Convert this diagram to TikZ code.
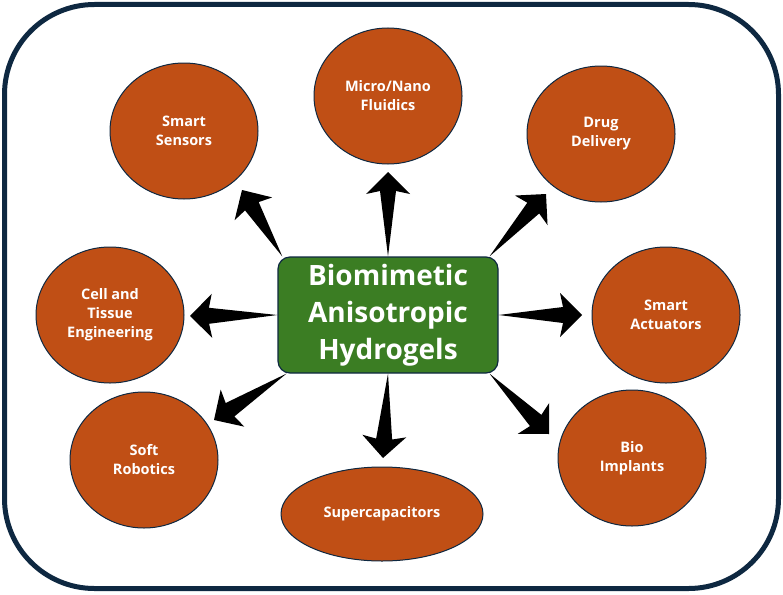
\documentclass[tikz,border=0pt]{standalone}
\usepackage{fontspec}
\setmainfont{Open Sans}
\usetikzlibrary{calc, shapes.geometric}

\definecolor{framenavy}{HTML}{0E2841}
\definecolor{hubgreen}{HTML}{3B7D23}
\definecolor{appbrown}{HTML}{C04F15}

% tapered block arrow: #1 start, #2 tip
\newcommand{\fatarrow}[2]{%
  \coordinate (aj) at ($(#2)!19pt!(#1)$);
  \coordinate (ah) at ($(#2)!22pt!(#1)$);
  \fill[black] (#1) -- ($(aj)!8pt!90:(#2)$) -- ($(ah)!22pt!90:(#2)$) -- (#2)
    -- ($(ah)!22pt!-90:(#2)$) -- ($(aj)!8pt!-90:(#2)$) -- cycle;
}

\begin{document}
\begin{tikzpicture}[x=1pt, y=-1pt,
    hub/.style={draw=framenavy, line width=1.2pt, fill=hubgreen, rounded corners=12pt,
      minimum width=220pt, minimum height=116pt, inner sep=0pt, align=center,
      text=white, font=\bfseries\fontsize{28}{37}\selectfont},
    app/.style={ellipse, draw=framenavy, line width=1pt, fill=appbrown,
      minimum width=148pt, minimum height=136pt, inner sep=0pt, align=center,
      text=white, font=\bfseries\fontsize{14.5}{19}\selectfont}]
    \useasboundingbox (0,0) rectangle (783,594);
    \draw[framenavy, line width=5pt, rounded corners=90pt] (4.5,4.5) rectangle (778.5,588.5);

    \node[hub] (hub) at (388,315) {Biomimetic\\Anisotropic\\Hydrogels};

    \node[app] (sensors) at (184,131) {Smart\\Sensors};
    \node[app] (fluidics) at (388,96) {Micro/Nano\\Fluidics};
    \node[app] (drug) at (601,134) {Drug\\Delivery};
    \node[app] (cell) at (110,315) {Cell and\\Tissue\\Engineering};
    \node[app] (actuators) at (666,315) {Smart\\Actuators};
    \node[app] (robotics) at (144,460) {Soft\\Robotics};
    \node[app, minimum width=202pt, minimum height=94pt] (supercap) at (382,514) {Supercapacitors};
    \node[app] (implants) at (632,458) {Bio\\Implants};

    % arrow tips, just short of each ellipse
    \coordinate (tip-sensors) at (242,190);
    \coordinate (tip-fluidics) at (388,172);
    \coordinate (tip-drug) at (546,194);
    \coordinate (tip-actuators) at (582,315);
    \coordinate (tip-implants) at (549,434);
    \coordinate (tip-supercap) at (383,458);
    \coordinate (tip-robotics) at (214,420);
    \coordinate (tip-cell) at (190,316);

    \foreach \from/\to in {hub.151/tip-sensors, hub.north/tip-fluidics, hub.30/tip-drug,
        hub.east/tip-actuators, hub.-30/tip-implants, hub.south/tip-supercap,
        hub.-150/tip-robotics, hub.west/tip-cell}
      \fatarrow{\from}{\to};
\end{tikzpicture}
\end{document}
